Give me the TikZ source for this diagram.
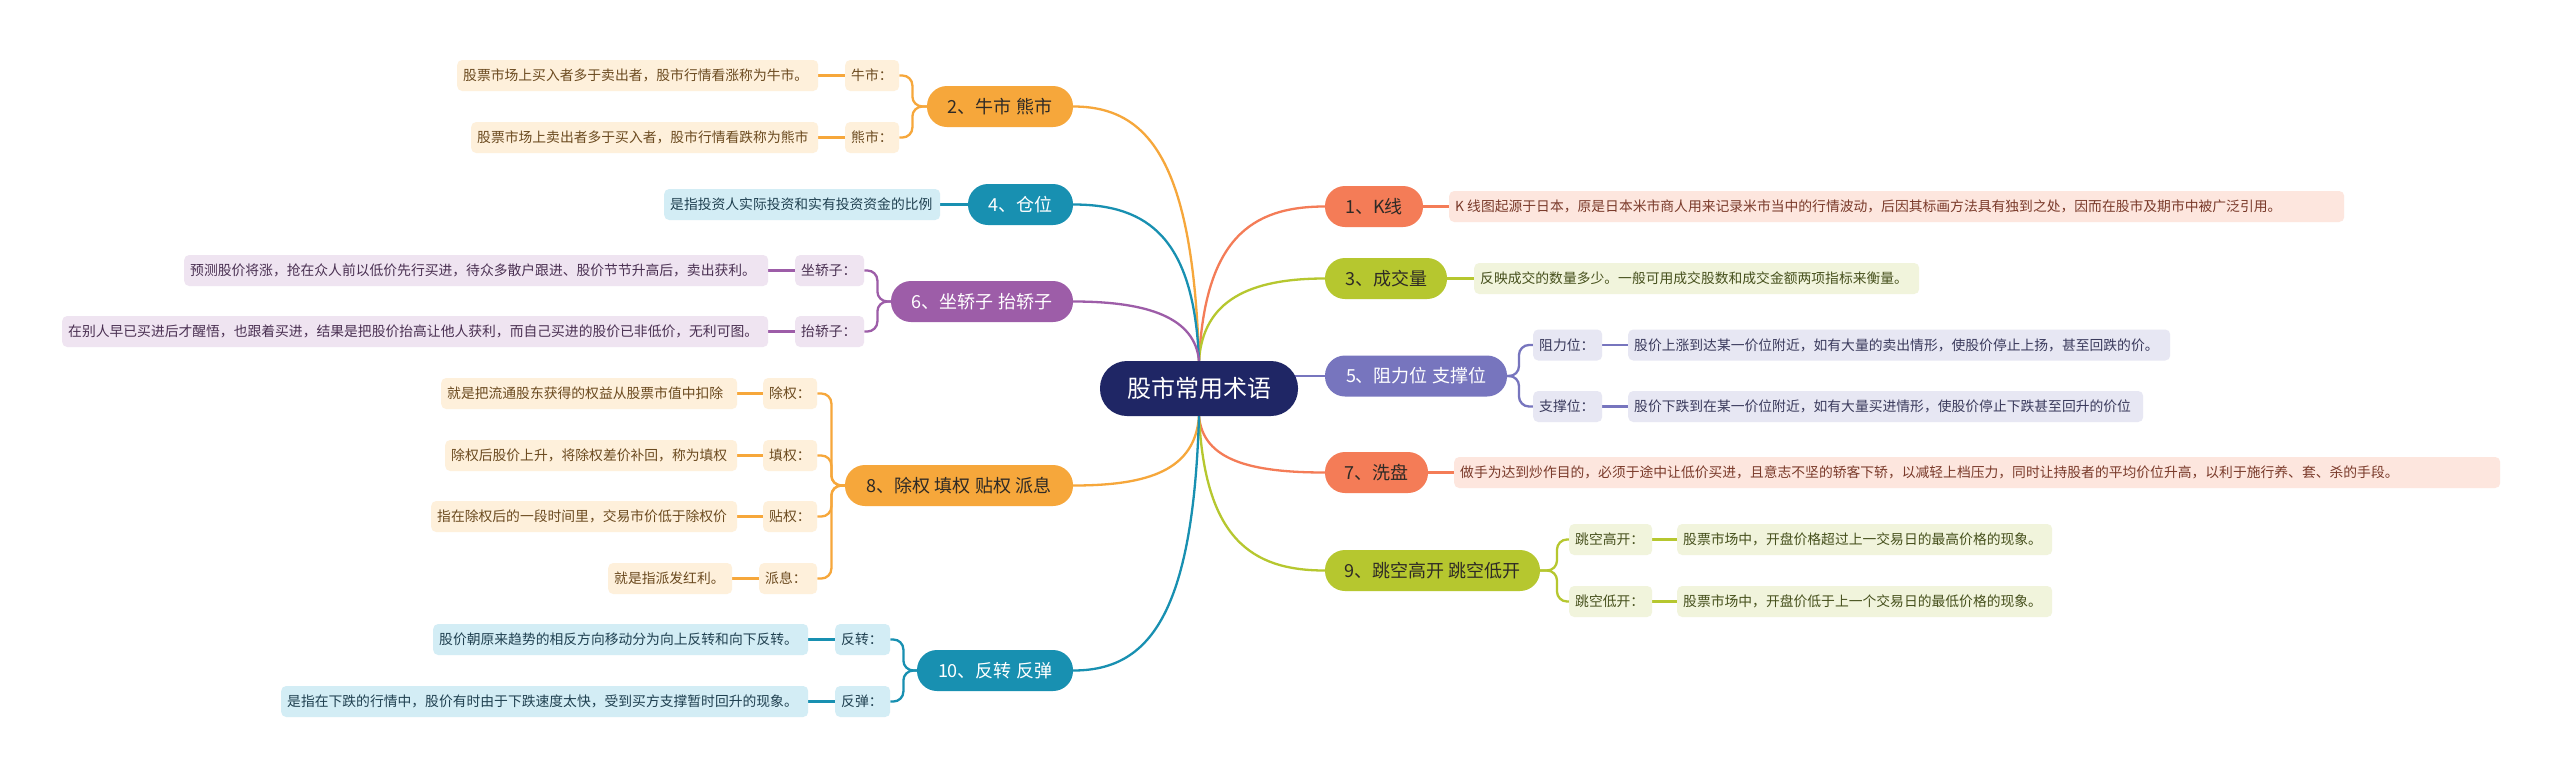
\documentclass[tikz,border=0pt]{standalone}
\usepackage{fontspec}
\setmainfont{Noto Sans CJK SC}
\usetikzlibrary{calc}
\pgfdeclarelayer{bg}
\pgfsetlayers{bg,main}

\definecolor{cRoot}{HTML}{1F2665}
\definecolor{cOr}{HTML}{F6A73B}
\definecolor{cOrL}{HTML}{FEF0DB}
\definecolor{cOrT}{HTML}{6B4A1F}
\definecolor{cCo}{HTML}{F47C57}
\definecolor{cCoL}{HTML}{FDE6DE}
\definecolor{cCoT}{HTML}{7A3A2A}
\definecolor{cGr}{HTML}{B6C72F}
\definecolor{cGrL}{HTML}{F1F4DC}
\definecolor{cGrT}{HTML}{46501C}
\definecolor{cPb}{HTML}{7775BE}
\definecolor{cPbL}{HTML}{E7E7F3}
\definecolor{cPbT}{HTML}{3A3A5C}
\definecolor{cPu}{HTML}{9D5DA8}
\definecolor{cPuL}{HTML}{EFE4F1}
\definecolor{cPuT}{HTML}{4A3052}
\definecolor{cTe}{HTML}{1890B1}
\definecolor{cTeL}{HTML}{D3EDF5}
\definecolor{cTeT}{HTML}{1F4050}
\definecolor{cDark}{HTML}{2E2A26}

\newcommand\fsz[1]{\fontsize{#1pt}{#1pt}\selectfont}

\tikzset{
  root/.style={fill=cRoot, text=white, rounded corners=27pt, minimum width=198pt,
    minimum height=55pt, inner sep=0pt, font=\fsz{24}},
  topic/.style={rounded corners=20pt, minimum height=41pt, inner sep=0pt, font=\fsz{18}},
  dbox/.style={rounded corners=5pt, minimum height=31pt, inner xsep=6pt, inner ysep=0pt,
    anchor=west, font=\fsz{13.8}},
  oB/.style={fill=cOrL, text=cOrT},
  kB/.style={fill=cCoL, text=cCoT},
  gB/.style={fill=cGrL, text=cGrT},
  bB/.style={fill=cPbL, text=cPbT},
  pB/.style={fill=cPuL, text=cPuT},
  tB/.style={fill=cTeL, text=cTeT},
  link/.style={line width=2.3pt},
  tie/.style={line width=2.3pt, rounded corners=10pt},
  leaf/.style={line width=2.8pt},
}

% topic node: name, x, y, width, fill, text colour, text
\newcommand\Tp[7]{\node[topic, fill=#5, text=#6, minimum width=#4pt] (#1) at (#2,#3) {#7};}
% box node: name, left x, centre y, width, style, text
\newcommand\Bx[6]{\node[dbox, #5, minimum width=#4pt] (#1) at (#2,#3) {\makebox[\dimexpr#4pt-12pt\relax][l]{#6}};}

\begin{document}
\begin{tikzpicture}[x=1pt, y=-1pt]
\useasboundingbox (0,0) rectangle (2560,777);

\node[root] (root) at (1199,388.5) {股市常用术语};

% ---------- right side ----------
\Tp{n1}{1374}{206.5}{98}{cCo}{cDark}{1、K线}
\Bx{d1}{1449}{206.5}{895}{kB}{K 线图起源于日本，原是日本米市商人用来记录米市当中的行情波动，后因其标画方法具有独到之处，因而在股市及期市中被广泛引用。}

\Tp{n3}{1386}{278.5}{122}{cGr}{cDark}{3、成交量}
\Bx{d3}{1474}{278.5}{445}{gB}{反映成交的数量多少。一般可用成交股数和成交金额两项指标来衡量。}

\Tp{n5}{1416}{376}{182}{cPb}{white}{5、阻力位 支撑位}
\Bx{c5a}{1533}{345}{69}{bB}{阻力位：}
\Bx{d5a}{1628}{345}{542}{bB}{股价上涨到达某一价位附近，如有大量的卖出情形，使股价停止上扬，甚至回跌的价。}
\Bx{c5b}{1533}{406.5}{69}{bB}{支撑位：}
\Bx{d5b}{1628}{406.5}{515}{bB}{股价下跌到在某一价位附近，如有大量买进情形，使股价停止下跌甚至回升的价位}

\Tp{n7}{1376.5}{472.5}{103}{cCo}{cDark}{7、洗盘}
\Bx{d7}{1454}{472.5}{1046}{kB}{做手为达到炒作目的，必须于途中让低价买进，且意志不坚的轿客下轿，以减轻上档压力，同时让持股者的平均价位升高，以利于施行养、套、杀的手段。}

\Tp{n9}{1432.5}{570.5}{215}{cGr}{cDark}{9、跳空高开 跳空低开}
\Bx{c9a}{1569}{539.5}{83}{gB}{跳空高开：}
\Bx{d9a}{1677}{539.5}{375}{gB}{股票市场中，开盘价格超过上一交易日的最高价格的现象。}
\Bx{c9b}{1569}{601.5}{83}{gB}{跳空低开：}
\Bx{d9b}{1677}{601.5}{375}{gB}{股票市场中，开盘价低于上一个交易日的最低价格的现象。}

% ---------- left side ----------
\Tp{n2}{1000}{106.5}{146}{cOr}{cDark}{2、牛市 熊市}
\Bx{c2a}{845}{75.5}{54}{oB}{牛市：}
\Bx{d2a}{457}{75.5}{361}{oB}{股票市场上买入者多于卖出者，股市行情看涨称为牛市。}
\Bx{c2b}{845}{137.5}{54}{oB}{熊市：}
\Bx{d2b}{471}{137.5}{347}{oB}{股票市场上卖出者多于买入者，股市行情看跌称为熊市}

\Tp{n4}{1020.5}{204.5}{105}{cTe}{white}{4、仓位}
\Bx{d4}{664}{204.5}{276}{tB}{是指投资人实际投资和实有投资资金的比例}

\Tp{n6}{982}{301.5}{182}{cPu}{white}{6、坐轿子 抬轿子}
\Bx{c6a}{795}{270.5}{69}{pB}{坐轿子：}
\Bx{d6a}{184}{270.5}{584}{pB}{预测股价将涨，抢在众人前以低价先行买进，待众多散户跟进、股价节节升高后，卖出获利。}
\Bx{c6b}{795}{331.5}{69}{pB}{抬轿子：}
\Bx{d6b}{62}{331.5}{706}{pB}{在别人早已买进后才醒悟，也跟着买进，结果是把股价抬高让他人获利，而自己买进的股价已非低价，无利可图。}

\Tp{n8}{959}{485.5}{228}{cOr}{cDark}{8、除权 填权 贴权 派息}
\Bx{c8a}{763}{393.5}{54}{oB}{除权：}
\Bx{d8a}{441}{393.5}{296}{oB}{就是把流通股东获得的权益从股票市值中扣除}
\Bx{c8b}{763}{455.5}{54}{oB}{填权：}
\Bx{d8b}{445}{455.5}{292}{oB}{除权后股价上升，将除权差价补回，称为填权}
\Bx{c8c}{763}{516.5}{54}{oB}{贴权：}
\Bx{d8c}{431}{516.5}{306}{oB}{指在除权后的一段时间里，交易市价低于除权价}
\Bx{c8d}{759}{578.5}{58}{oB}{派息：}
\Bx{d8d}{608}{578.5}{124}{oB}{就是指派发红利。}

\Tp{n10}{995}{670.5}{156}{cTe}{white}{10、反转 反弹}
\Bx{c10a}{835}{639.5}{55}{tB}{反转：}
\Bx{d10a}{433}{639.5}{375}{tB}{股价朝原来趋势的相反方向移动分为向上反转和向下反转。}
\Bx{c10b}{835}{701.5}{55}{tB}{反弹：}
\Bx{d10b}{281}{701.5}{527}{tB}{是指在下跌的行情中，股价有时由于下跌速度太快，受到买方支撑暂时回升的现象。}

\begin{pgfonlayer}{bg}
\fill[white] (0,0) rectangle (2560,777);
% root to topics
\draw[link, cCo] (root.north) .. controls (1205,240) and (1250,206.5) .. (n1.west);
\draw[link, cGr] (root.north) .. controls (1203,300) and (1250,278.5) .. (n3.west);
\draw[link, cPb] ($(root.east |- n5.west)+(-12,0)$) -- (n5.west);
\draw[link, cCo] (root.south) .. controls (1203,460) and (1250,472.5) .. (n7.west);
\draw[link, cGr] (root.south) .. controls (1205,537) and (1250,570.5) .. (n9.west);
\draw[link, cOr] (root.north) .. controls (1193,162) and (1149,106.5) .. (n2.east);
\draw[link, cTe] (root.north) .. controls (1194,239) and (1149,204.5) .. (n4.east);
\draw[link, cPu] (root.north) .. controls (1195,318) and (1149,301.5) .. (n6.east);
\draw[link, cOr] (root.south) .. controls (1195,470) and (1149,485.5) .. (n8.east);
\draw[link, cTe] (root.south) .. controls (1193,615) and (1149,670.5) .. (n10.east);

% topics to children
\draw[leaf, cCo] (n1.east) -- (d1.west);
\draw[leaf, cGr] (n3.east) -- (d3.west);
\draw[leaf, cCo] (n7.east) -- (d7.west);
\draw[leaf, cTe] (n4.west) -- (d4.east);

\draw[tie, cPb] (c5a.west) -- ++(-14,0) |- (n5.east);
\draw[tie, cPb] (c5b.west) -- ++(-14,0) |- (n5.east);
\draw[tie, cGr] (c9a.west) -- ++(-12,0) |- (n9.east);
\draw[tie, cGr] (c9b.west) -- ++(-12,0) |- (n9.east);
\draw[tie, cOr] (c2a.east) -- ++(13,0) |- (n2.west);
\draw[tie, cOr] (c2b.east) -- ++(13,0) |- (n2.west);
\draw[tie, cPu] (c6a.east) -- ++(13,0) |- (n6.west);
\draw[tie, cPu] (c6b.east) -- ++(13,0) |- (n6.west);
\draw[tie, cOr] (c8a.east) -- ++(14,0) |- (n8.west);
\draw[tie, cOr] (c8b.east) -- ++(14,0) |- (n8.west);
\draw[tie, cOr] (c8c.east) -- ++(14,0) |- (n8.west);
\draw[tie, cOr] (c8d.east) -- ++(14,0) |- (n8.west);
\draw[tie, cTe] (c10a.east) -- ++(13,0) |- (n10.west);
\draw[tie, cTe] (c10b.east) -- ++(13,0) |- (n10.west);

% children to descriptions
\draw[leaf, cPb] (c5a.east) -- (d5a.west);
\draw[leaf, cPb] (c5b.east) -- (d5b.west);
\draw[leaf, cGr] (c9a.east) -- (d9a.west);
\draw[leaf, cGr] (c9b.east) -- (d9b.west);
\draw[leaf, cOr] (c2a.west) -- (d2a.east);
\draw[leaf, cOr] (c2b.west) -- (d2b.east);
\draw[leaf, cPu] (c6a.west) -- (d6a.east);
\draw[leaf, cPu] (c6b.west) -- (d6b.east);
\draw[leaf, cOr] (c8a.west) -- (d8a.east);
\draw[leaf, cOr] (c8b.west) -- (d8b.east);
\draw[leaf, cOr] (c8c.west) -- (d8c.east);
\draw[leaf, cOr] (c8d.west) -- (d8d.east);
\draw[leaf, cTe] (c10a.west) -- (d10a.east);
\draw[leaf, cTe] (c10b.west) -- (d10b.east);
\end{pgfonlayer}
\end{tikzpicture}
\end{document}
